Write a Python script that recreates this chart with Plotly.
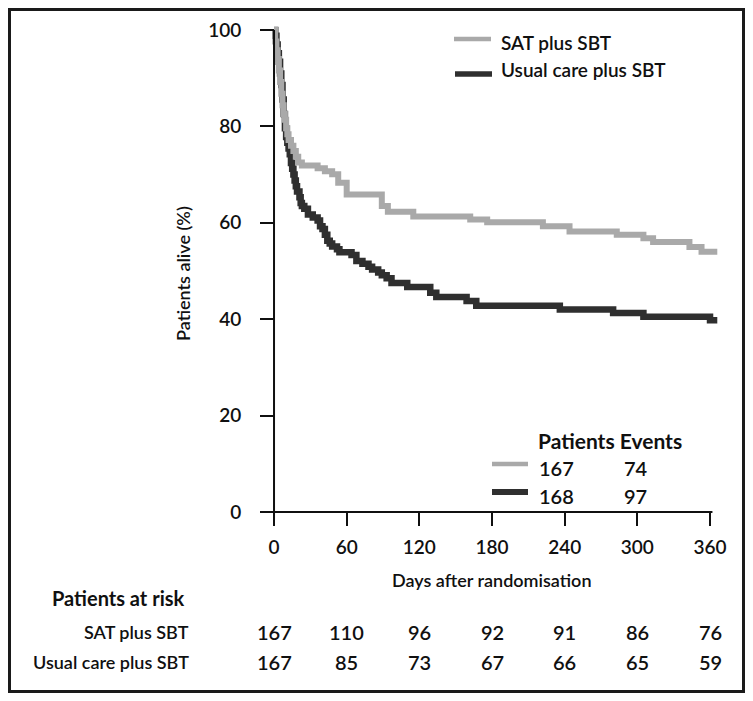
import plotly.graph_objects as go

# page body has an 8px margin, so the figure is drawn a bit smaller than the window
OFF = 8
W, H = 737, 685

# Kaplan-Meier steps (day, % alive)
sat_days = [0, 1, 2, 3, 4, 5, 6, 7, 8, 9, 10, 11, 12, 14, 16, 18, 20, 23, 36, 42, 48,
            53, 60, 89, 94, 115, 162, 176, 222, 244, 283, 305, 313, 343, 353, 366]
sat_pct = [100, 97.6, 95.8, 94.0, 91.6, 89.2, 86.8, 84.4, 82.6, 81.4, 79.6, 78.4, 77.2,
           76.0, 74.9, 73.7, 72.5, 71.9, 71.3, 70.7, 70.1, 68.3, 65.9, 63.5, 62.3, 61.3,
           60.7, 60.1, 59.3, 58.2, 57.5, 56.8, 56.0, 55.0, 54.0, 54.0]

usual_days = [0, 1, 2, 3, 4, 5, 6, 7, 8, 9, 10, 11, 12, 13, 14, 15, 16, 17, 18, 19, 21,
              22, 23, 25, 28, 32, 36, 38, 40, 42, 44, 46, 48, 52, 54, 64, 68, 73, 78, 81,
              86, 89, 93, 97, 110, 129, 134, 159, 167, 236, 280, 305, 360, 366]
usual_pct = [100, 98.8, 97.0, 95.2, 93.4, 91.0, 88.6, 85.6, 82.6, 79.6, 77.8, 76.6, 75.4,
             74.2, 72.4, 71.2, 70.0, 68.8, 67.6, 66.5, 65.3, 64.1, 63.5, 62.9, 61.7, 61.1,
             60.5, 59.3, 58.7, 57.5, 56.3, 55.7, 55.1, 54.5, 53.9, 53.3, 52.1, 51.5, 50.9,
             50.3, 49.7, 49.1, 48.5, 47.5, 46.7, 45.5, 44.6, 43.8, 42.8, 42.0, 41.3, 40.5,
             39.8, 39.8]

groups = ["SAT plus SBT", "Usual care plus SBT"]
n_patients = [167, 168]
n_events = [74, 97]

risk_days = [0, 60, 120, 180, 240, 300, 360]
risk_sat = [167, 110, 96, 92, 91, 86, 76]
risk_usual = [167, 85, 73, 67, 66, 65, 59]

GREY = "#a9a9a9"
DARK = "#2f2f2f"
INK = "#101010"
FONT = "Lato"


def px(x):
    # screen pixel -> paper fraction
    return (x - OFF) / W


def py(y):
    return 1 - (y - OFF) / H


def txt(size, bold=False):
    return dict(family=FONT, size=size, color=INK, weight=700 if bold else 600)


def label(x, y, text, size, xanchor="left", bold=False, **kw):
    fig.add_annotation(x=px(x), y=py(y), xref="paper", yref="paper", text=text,
                       showarrow=False, xanchor=xanchor, yanchor="middle",
                       font=txt(size, bold), **kw)


fig = go.Figure()
fig.add_trace(go.Scatter(x=usual_days, y=usual_pct, mode="lines", line_shape="hv",
                         line=dict(color=DARK, width=6.5), showlegend=False))
fig.add_trace(go.Scatter(x=sat_days, y=sat_pct, mode="lines", line_shape="hv",
                         line=dict(color=GREY, width=6), showlegend=False))

# axis lines
fig.add_shape(type="line", xref="x", yref="y", x0=-11, x1=362, y0=0, y1=0,
              line=dict(color=INK, width=2))
fig.add_shape(type="line", xref="x", yref="y", x0=0, x1=0, y0=-1.7, y1=100,
              line=dict(color=INK, width=2))

# outer frame
fig.add_shape(type="rect", xref="paper", yref="paper", x0=px(9.5), x1=px(743.5),
              y0=py(691.5), y1=py(9.5), line=dict(color="#1a1a1a", width=3))

# top legend
fig.add_shape(type="line", xref="paper", yref="paper", x0=px(454), x1=px(491),
              y0=py(39), y1=py(39), line=dict(color=GREY, width=4.5))
fig.add_shape(type="line", xref="paper", yref="paper", x0=px(455), x1=px(492),
              y0=py(74), y1=py(74), line=dict(color=DARK, width=5.5))
label(499, 42, groups[0], 19)
label(499, 70, groups[1], 19)

# patients / events box
label(536, 440, "Patients Events", 21, bold=True)
for i, (yy, col, lw) in enumerate([(464, GREY, 4.5), (492, DARK, 6)]):
    fig.add_shape(type="line", xref="paper", yref="paper", x0=px(492), x1=px(528),
                  y0=py(yy), y1=py(yy), line=dict(color=col, width=lw))
    label(537, yy + 4, str(n_patients[i]), 20)
    label(622, yy + 4, str(n_events[i]), 20)

# axis titles
label(183, 274, "Patients alive (%)", 18, xanchor="center", textangle=-90)
label(492, 580, "Days after randomisation", 18, xanchor="center")

# numbers at risk
label(50, 598, "Patients at risk", 20, bold=True)
for name, row, yy in [(groups[0], risk_sat, 632), (groups[1], risk_usual, 662)]:
    label(191, yy, name, 18, xanchor="right")
    for d, v in zip(risk_days, row):
        fig.add_annotation(x=d, y=py(yy), xref="x", yref="paper", text=str(v),
                           showarrow=False, xanchor="center", yanchor="middle",
                           font=txt(20))

fig.update_layout(
    width=W, height=H, autosize=False,
    margin=dict(l=0, r=0, t=0, b=0),
    paper_bgcolor="white", plot_bgcolor="white",
    xaxis=dict(range=[-11, 367], domain=[px(260.7), px(718.5)], anchor="free",
               position=py(512), showgrid=False, zeroline=False, showline=False,
               automargin=False,
               tickvals=risk_days, ticks="outside", ticklen=13, tickwidth=2,
               tickcolor=INK, ticklabelstandoff=5, tickfont=txt(19)),
    yaxis=dict(range=[-1.7, 101], domain=[py(520.2), py(25.2)], anchor="free",
               position=px(274), showgrid=False, zeroline=False, showline=False,
               automargin=False,
               tickvals=[0, 20, 40, 60, 80, 100], ticks="outside", ticklen=14,
               tickwidth=2, tickcolor=INK, ticklabelstandoff=15, tickfont=txt(19)),
)

fig.write_html("out.html")
